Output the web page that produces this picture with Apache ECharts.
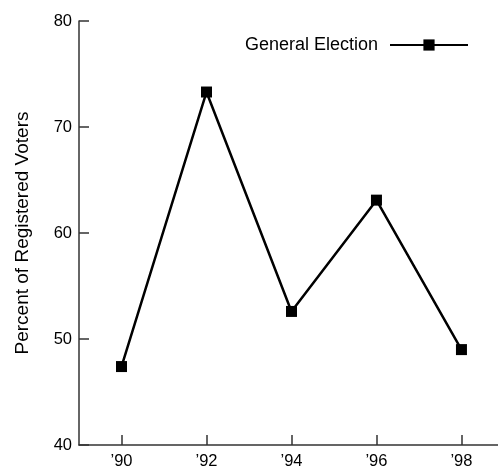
<!DOCTYPE html>
<html>
<head>
<meta charset="utf-8">
<script src="https://cdn.jsdelivr.net/npm/echarts@6/dist/echarts.min.js"></script>
<style>
  html, body { margin: 0; padding: 0; background: #fff; }
  #chart { width: 498px; height: 472px; }
</style>
</head>
<body>
<div id="chart"></div>
<script>
// election years (19xx) and turnout
var years = [90, 92, 94, 96, 98];
var generalElection = [47.4, 73.3, 52.6, 63.1, 49.0];
var yTicks = [40, 50, 60, 70, 80];

var chart = echarts.init(document.getElementById('chart'));

var pts = [];
for (var i = 0; i < years.length; i++) {
  pts.push([years[i], generalElection[i]]);
}

var font = 'Liberation Sans, Arial, sans-serif';

chart.setOption({
  backgroundColor: '#fff',
  animation: false,
  grid: { left: 79, right: 0, top: 21, bottom: 27 },
  legend: {
    data: ['General Election'],
    right: 24,
    top: 31,
    align: 'right',
    itemWidth: 78,
    itemHeight: 14,
    textStyle: { color: '#000', fontSize: 18, fontFamily: font, padding: [0, 7, 0, 0] }
  },
  xAxis: {
    type: 'value',
    min: 89,
    max: 98.86,
    splitLine: { show: false },
    axisLine: { lineStyle: { color: '#333', width: 1.5 } },
    axisTick: {
      inside: true, length: 10, customValues: years,
      lineStyle: { color: '#333', width: 1.5 }
    },
    axisLabel: {
      customValues: years,
      margin: 8,
      color: '#000',
      fontSize: 16.5,
      fontFamily: font,
      formatter: function (v) { return '\u2019' + v; }
    }
  },
  yAxis: {
    type: 'value',
    min: 40,
    max: 80,
    interval: 10,
    name: 'Percent of Registered Voters',
    nameLocation: 'middle',
    nameGap: 47,
    nameTextStyle: { color: '#000', fontSize: 19, fontFamily: font },
    splitLine: { show: false },
    axisLine: { show: true, lineStyle: { color: '#333', width: 1.5 } },
    axisTick: { show: true, inside: true, length: 10, lineStyle: { color: '#333', width: 1.5 } },
    axisLabel: {
      margin: 7,
      color: '#000',
      fontSize: 16.5,
      fontFamily: font,
      customValues: yTicks
    }
  },
  series: [{
    name: 'General Election',
    type: 'line',
    data: pts,
    symbol: 'rect',
    symbolSize: 11,
    showAllSymbol: true,
    lineStyle: { color: '#000', width: 2.5 },
    itemStyle: { color: '#000', borderWidth: 0 }
  }]
});
</script>
</body>
</html>
